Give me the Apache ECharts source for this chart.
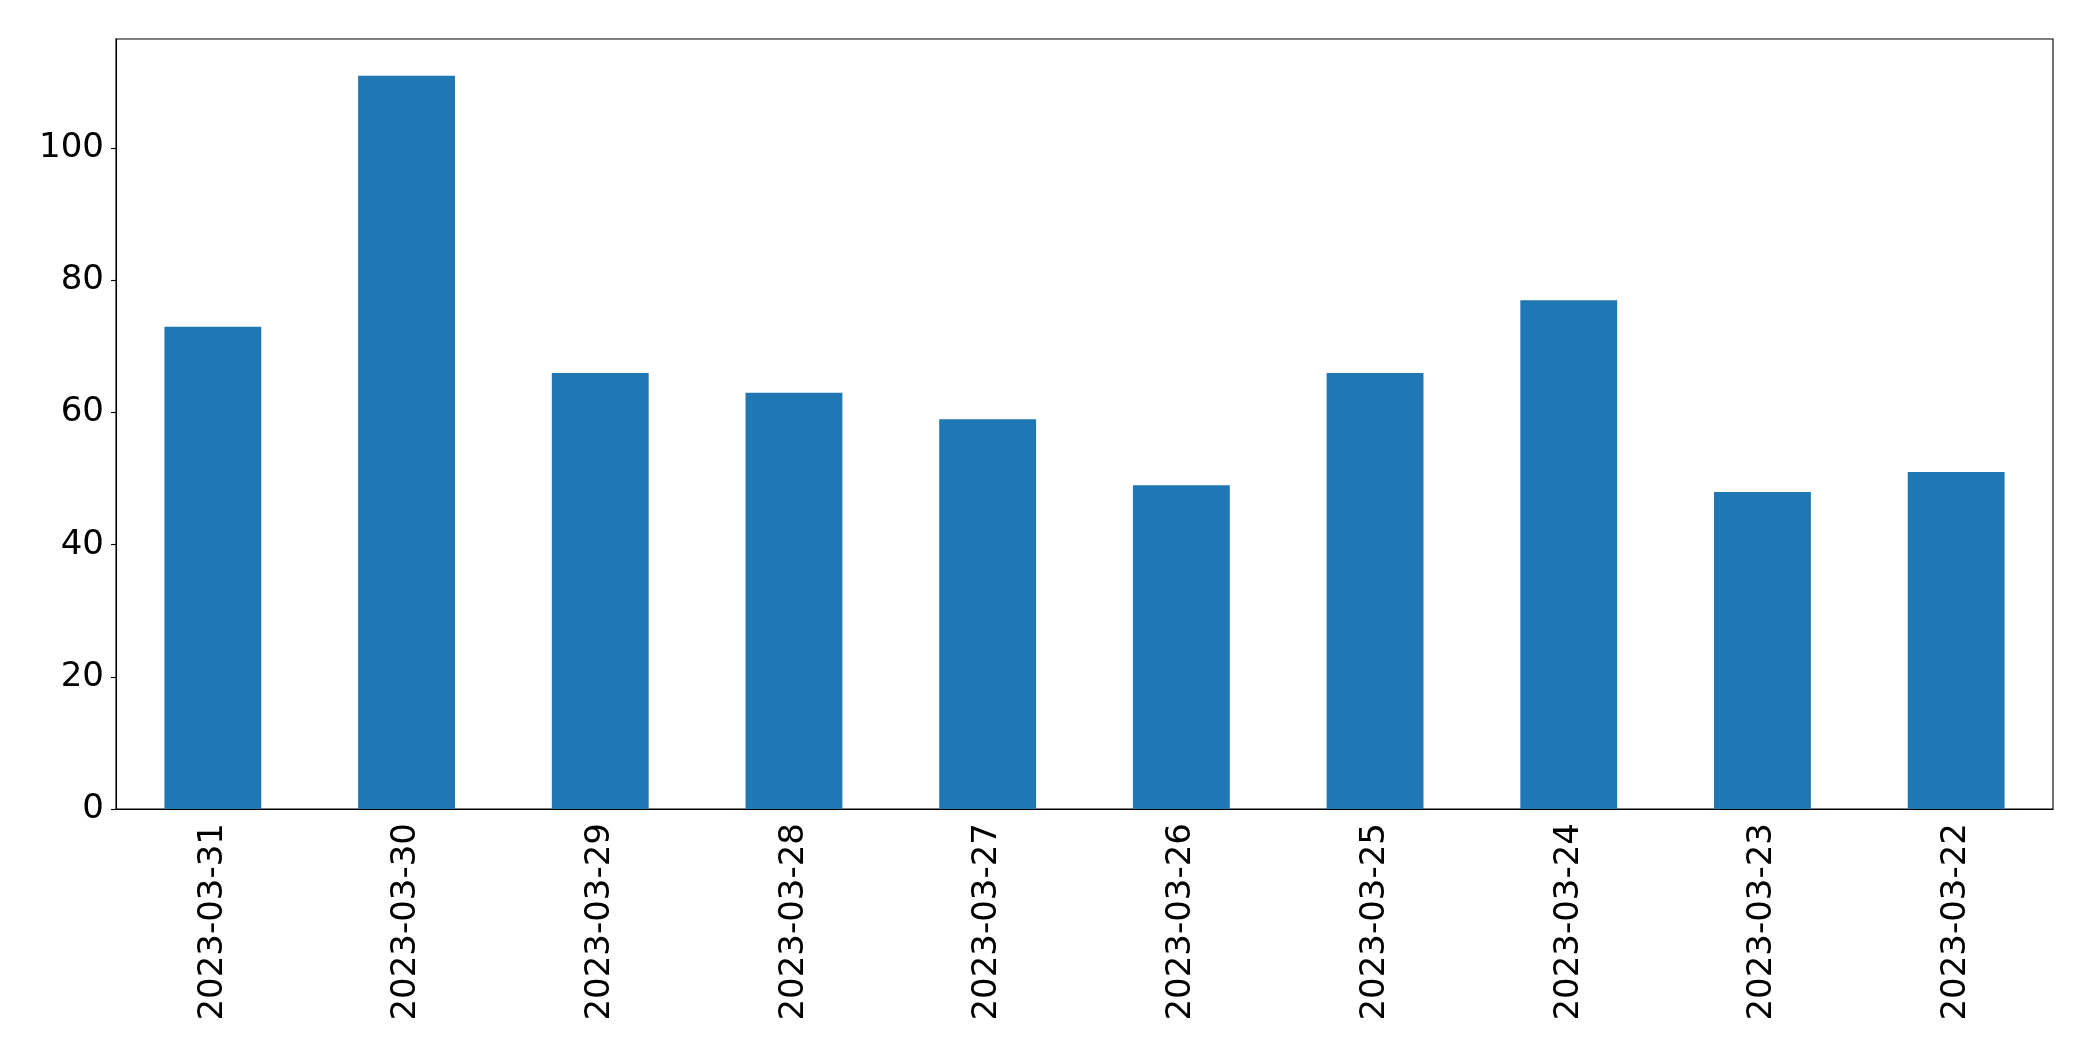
<!DOCTYPE html>
<html>
<head>
<meta charset="utf-8">
<script src="https://cdn.jsdelivr.net/npm/echarts@6/dist/echarts.min.js"></script>
<style>
  html, body {margin: 0; padding: 0; background: #fff;}
  #chart {width: 2093px; height: 1061px;}
</style>
</head>
<body>
<div id="chart"></div>
<script>
const dates = ['2023-03-31', '2023-03-30', '2023-03-29', '2023-03-28', '2023-03-27',
  '2023-03-26', '2023-03-25', '2023-03-24', '2023-03-23', '2023-03-22'];
const counts = [73, 111, 66, 63, 59, 49, 66, 77, 48, 51];
const yTicks = [0, 20, 40, 60, 80, 100];

const chart = echarts.init(document.getElementById('chart'), null, {renderer: 'canvas'});
const font = 'DejaVu Sans';

chart.setOption({
  backgroundColor: '#fff',
  animation: false,
  grid: {
    left: 116, right: 40, top: 39, bottom: 252,
    show: true, borderColor: '#000', borderWidth: 1.1,
  },
  xAxis: {
    type: 'category',
    data: dates,
    boundaryGap: true,
    axisLine: {lineStyle: {color: '#000', width: 1.1}},
    axisTick: {alignWithLabel: true, length: 5, lineStyle: {color: '#000', width: 1.1}},
    axisLabel: {
      rotate: 90, margin: 14, color: '#000',
      fontFamily: font, fontSize: 34, interval: 0,
    },
    splitLine: {show: false},
  },
  yAxis: {
    type: 'value',
    min: 0,
    max: 116.55,
    interval: 20,
    axisLine: {show: true, lineStyle: {color: '#000', width: 1.1}},
    axisTick: {show: true, length: 5, customValues: yTicks, lineStyle: {color: '#000', width: 1.1}},
    axisLabel: {
      margin: 12, color: '#000', fontFamily: font, fontSize: 34,
      customValues: yTicks,
      padding: [4, 0, 0, 0],
    },
    splitLine: {show: false},
  },
  series: [{
    type: 'bar',
    data: counts,
    barWidth: '50%',
    itemStyle: {color: '#1f77b4'},
  }],
});
</script>
</body>
</html>
